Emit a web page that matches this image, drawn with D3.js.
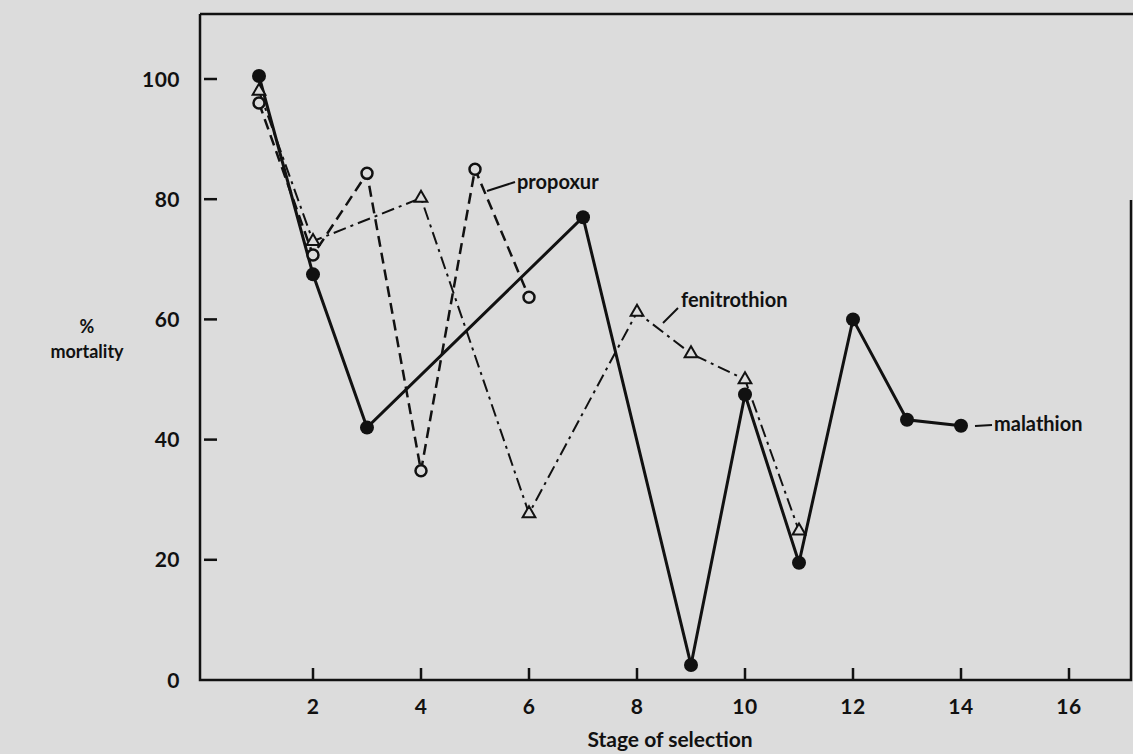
<!DOCTYPE html>
<html>
<head>
<meta charset="utf-8">
<script src="https://cdn.jsdelivr.net/npm/d3@7"></script>
<style>
  html, body { margin: 0; padding: 0; background: #dcdcdc; }
  svg text { font-family: Lato, "DejaVu Sans", sans-serif; font-weight: 700; fill: #111; }
</style>
</head>
<body>
<div id="run"></div>
<script>
// data
var malathionStage = [1, 2, 3, 7, 9, 10, 11, 12, 13, 14],
    malathionPct   = [100.5, 67.5, 42, 77, 2.5, 47.5, 19.5, 60, 43.3, 42.3];

var propoxurStage = [1, 2, 3, 4, 5, 6],
    propoxurPct   = [96, 70.7, 84.3, 34.8, 85, 63.7];

var fenitroStage = [1, 2, 4, 6, 8, 9, 10, 11],
    fenitroPct   = [98, 73, 80.2, 27.7, 61.2, 54.3, 50, 24.8];

var xTicks = [2, 4, 6, 8, 10, 12, 14, 16],
    yTicks = [0, 20, 40, 60, 80, 100];

var width = 1133,
    height = 754;

var x = d3.scaleLinear().domain([0, 16]).range([205, 1069]),
    y = d3.scaleLinear().domain([0, 100]).range([680, 79]);

// plot frame edges (not "top": that name is taken by window.top)
var frameL = 200, frameT = 14, frameR = 1131, frameB = 680;

var svg = d3.select("#run").append("svg")
    .attr("width", width)
    .attr("height", height);

svg.append("rect")
    .attr("width", width)
    .attr("height", height)
    .attr("fill", "#dcdcdc");

// frame: left, bottom, top and the part of the right side that shows
var frame = svg.append("g")
    .attr("stroke", "#111")
    .attr("stroke-width", 2.5)
    .attr("fill", "none");
frame.append("path").attr("d", "M" + frameL + "," + frameT + "V" + frameB + "H" + frameR + "V200");
frame.append("path").attr("d", "M" + frameL + "," + frameT + "H" + width);

// y ticks (inward, little gap from the axis)
svg.append("g").selectAll("line")
    .data(yTicks.filter(function(d) { return d > 0; }))
    .join("line")
    .attr("x1", frameL + 4)
    .attr("x2", frameL + 17)
    .attr("y1", function(d) { return y(d); })
    .attr("y2", function(d) { return y(d); })
    .attr("stroke", "#111")
    .attr("stroke-width", 2.5);

svg.append("g").selectAll("text")
    .data(yTicks)
    .join("text")
    .attr("x", 180)
    .attr("y", function(d) { return y(d); })
    .attr("dy", "0.36em")
    .attr("text-anchor", "end")
    .style("font-size", "21px")
    .style("letter-spacing", "0.5px")
    .text(function(d) { return d; });

// x ticks (inward)
svg.append("g").selectAll("line")
    .data(xTicks)
    .join("line")
    .attr("x1", function(d) { return x(d); })
    .attr("x2", function(d) { return x(d); })
    .attr("y1", frameB - 12)
    .attr("y2", frameB)
    .attr("stroke", "#111")
    .attr("stroke-width", 2.5);

svg.append("g").selectAll("text")
    .data(xTicks)
    .join("text")
    .attr("x", function(d) { return x(d); })
    .attr("y", 714)
    .attr("text-anchor", "middle")
    .style("font-size", "21px")
    .style("letter-spacing", "0.5px")
    .text(function(d) { return d; });

// axis titles
svg.append("text")
    .attr("x", 670)
    .attr("y", 747)
    .attr("text-anchor", "middle")
    .style("font-size", "21px")
    .text("Stage of selection");

svg.append("text")
    .attr("x", 87)
    .attr("y", 333)
    .attr("text-anchor", "middle")
    .style("font-size", "18px")
    .text("%");
svg.append("text")
    .attr("x", 87)
    .attr("y", 358)
    .attr("text-anchor", "middle")
    .style("font-size", "18px")
    .text("mortality");

function pairs(xs, ys) {
    return xs.map(function(d, i) { return [d, ys[i]]; });
}

var line = d3.line()
    .x(function(d) { return x(d[0]); })
    .y(function(d) { return y(d[1]); });

var mal = pairs(malathionStage, malathionPct),
    pro = pairs(propoxurStage, propoxurPct),
    fen = pairs(fenitroStage, fenitroPct);

// fenitrothion: dash-dot
svg.append("path")
    .datum(fen)
    .attr("d", line)
    .attr("fill", "none")
    .attr("stroke", "#111")
    .attr("stroke-width", 2)
    .attr("stroke-dasharray", "13,5,3,5");

// propoxur: dashed
svg.append("path")
    .datum(pro)
    .attr("d", line)
    .attr("fill", "none")
    .attr("stroke", "#111")
    .attr("stroke-width", 2.5)
    .attr("stroke-dasharray", "11,6");

// malathion: solid
svg.append("path")
    .datum(mal)
    .attr("d", line)
    .attr("fill", "none")
    .attr("stroke", "#111")
    .attr("stroke-width", 3);

// markers
var tri = d3.symbol().type(d3.symbolTriangle).size(70);

svg.append("g").selectAll("path")
    .data(fen)
    .join("path")
    .attr("d", tri)
    .attr("transform", function(d) { return "translate(" + x(d[0]) + "," + y(d[1]) + ")"; })
    .attr("fill", "#dcdcdc")
    .attr("stroke", "#111")
    .attr("stroke-width", 2);

svg.append("g").selectAll("circle")
    .data(pro)
    .join("circle")
    .attr("cx", function(d) { return x(d[0]); })
    .attr("cy", function(d) { return y(d[1]); })
    .attr("r", 5.5)
    .attr("fill", "#dcdcdc")
    .attr("stroke", "#111")
    .attr("stroke-width", 2.5);

svg.append("g").selectAll("circle")
    .data(mal)
    .join("circle")
    .attr("cx", function(d) { return x(d[0]); })
    .attr("cy", function(d) { return y(d[1]); })
    .attr("r", 7)
    .attr("fill", "#111");

// series labels with leader lines
var labels = [
    { name: "propoxur", lx1: 487, ly1: 191, lx2: 515, ly2: 182, tx: 517, ty: 189 },
    { name: "fenitrothion", lx1: 663, ly1: 323, lx2: 678, ly2: 308, tx: 681, ty: 307 },
    { name: "malathion", lx1: 975, ly1: 426, lx2: 992, ly2: 425, tx: 994, ty: 431 }
];

svg.append("g").selectAll("line")
    .data(labels)
    .join("line")
    .attr("x1", function(d) { return d.lx1; })
    .attr("y1", function(d) { return d.ly1; })
    .attr("x2", function(d) { return d.lx2; })
    .attr("y2", function(d) { return d.ly2; })
    .attr("stroke", "#111")
    .attr("stroke-width", 2);

svg.append("g").selectAll("text")
    .data(labels)
    .join("text")
    .attr("x", function(d) { return d.tx; })
    .attr("y", function(d) { return d.ty; })
    .style("font-size", "20px")
    .text(function(d) { return d.name; });
</script>
</body>
</html>
